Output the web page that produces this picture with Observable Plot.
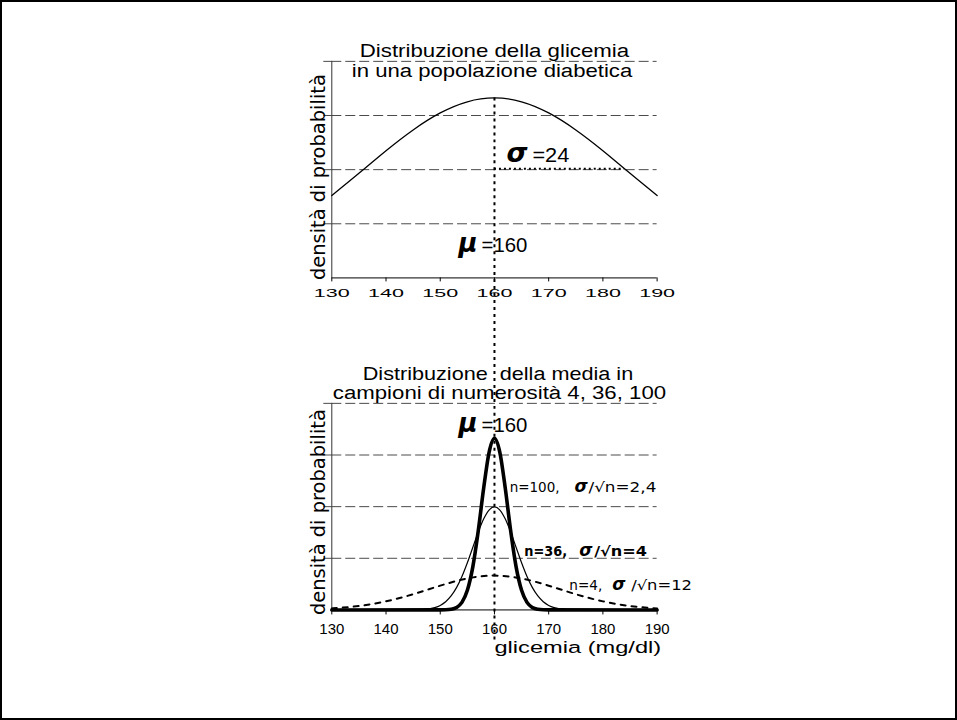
<!DOCTYPE html>
<html>
<head>
<meta charset="utf-8">
<script src="https://cdn.jsdelivr.net/npm/d3@7"></script>
<script src="https://cdn.jsdelivr.net/npm/@observablehq/plot@0.6"></script>
<style>
  body { margin: 0; background: #fff; }
  #frame { position: relative; width: 957px; height: 720px; box-sizing: border-box; border: 2px solid #000; overflow: hidden; background: #fff; }
  #top, #bottom { position: absolute; left: -2px; }
  #top { top: -2px; }
  #bottom { top: 338px; }
</style>
</head>
<body>
<div id="frame"><div id="top"></div><div id="bottom"></div></div>
<script>
// ---------- data ----------
const xTicks = [130, 140, 150, 160, 170, 180, 190];
const topGrid = [0.005, 0.010, 0.015, 0.020];
const bottomGrid = [0.05, 0.10, 0.15, 0.20];

const mu = 160;
const sigma = 24;
const sigmaLevel = 0.01008;

// top: glycaemia distribution in a diabetic population
const topX = [130, 135, 140, 145, 150, 155, 160, 165, 170, 175, 180, 185, 190];
const topY = [0.00761, 0.00966, 0.01175, 0.01367, 0.01524, 0.01627, 0.01662, 0.01627, 0.01524, 0.01367, 0.01175, 0.00966, 0.00761];

// bottom: sample means, n = 4
const n4X = [130, 135, 140, 145, 150, 155, 160, 165, 170, 175, 180, 185, 190];
const n4Y = [0.00146, 0.00380, 0.00829, 0.01522, 0.02349, 0.03048, 0.03324, 0.03048, 0.02349, 0.01522, 0.00829, 0.00380, 0.00146];

// n = 36
const n36X = [130, 144, 145, 146, 147, 148, 149, 150, 151, 152, 153, 154, 155, 156, 157, 158, 159, 160,
  161, 162, 163, 164, 165, 166, 167, 168, 169, 170, 171, 172, 173, 174, 175, 176, 190];
const n36Y = [0, 0.00003, 0.00009, 0.00022, 0.00051, 0.00111, 0.00227, 0.00438, 0.00794, 0.01350, 0.02157, 0.03238, 0.04566, 0.06049, 0.07528, 0.08802, 0.09667, 0.09974,
  0.09667, 0.08802, 0.07528, 0.06049, 0.04566, 0.03238, 0.02157, 0.01350, 0.00794, 0.00438, 0.00227, 0.00111, 0.00051, 0.00022, 0.00009, 0.00003, 0];

// n = 100
const n100X = [130, 150, 151, 152, 153, 154, 155, 156, 157, 158, 159, 160, 161, 162, 163, 164, 165, 166, 167, 168, 169, 170, 190];
const n100Y = [0, 0.00003, 0.00015, 0.00064, 0.00236, 0.00730, 0.01898, 0.04146, 0.07610, 0.11746, 0.15242, 0.16623,
  0.15242, 0.11746, 0.07610, 0.04146, 0.01898, 0.00730, 0.00236, 0.00064, 0.00015, 0.00003, 0];

// annotations
const topTitleLines = ["Distribuzione della glicemia", "in una popolazione diabetica"];
const bottomTitleLines = ["Distribuzione  della media in", "campioni di numerosità 4, 36, 100"];
const yLabel = "densità di probabilità";
const xLabel = "glicemia (mg/dl)";
const labelPrefix = ["n=100,", "n=36,", "n=4,"];
const labelSuffix = ["/√n=2,4", "/√n=4", "/√n=12"];
const labelX = [162.8, 165.5, 173.8];
const labelY = [0.114, 0.052, 0.0193];
const labelWeight = ["normal", "bold", "normal"];
const sigmaDx = [65, 55, 43];
const suffixDx = [79, 70, 62];
const prefixLen = [50, 43, 33];
const suffixLen = [68, 53, 61];

// title layout (offsets from the frame top, pixels)
const topTitleDy = [-4.3, 15.7], topTitleDx = [0, -2.5], topTitleLen = [270, 281];
const bottomTitleDy = [-23.5, -4.5], bottomTitleDx = [3.5, 5], bottomTitleLen = [271, 334];

const labels = labelPrefix.map((p, i) => ({p, s: labelSuffix[i], x: labelX[i], y: labelY[i], w: labelWeight[i]}));
const topPeak = d3.max(topY);

const sans = "'Liberation Sans', Arial, Helvetica, sans-serif";
const wide = "'DejaVu Sans', 'Liberation Sans', sans-serif";
const greek = {fontFamily: "'DejaVu Sans', sans-serif", fontWeight: "bold", fontStyle: "italic", fill: "#000"};

function stretchTicks(svg, len) {
  d3.select(svg).selectAll("g[aria-label='x-axis tick label'] text")
    .attr("textLength", len).attr("lengthAdjust", "spacingAndGlyphs");
}
function fitText(svg, str, len) {
  d3.select(svg).selectAll("text").filter(function () { return this.textContent === str; })
    .attr("textLength", len).attr("lengthAdjust", "spacingAndGlyphs");
}
const titleMarks = (lines, dxs, dys) => lines.map((t, i) => Plot.text([t], {
  x: [mu], frameAnchor: "top", dx: dxs[i], dy: dys[i], lineAnchor: "bottom", fontSize: 17.5, fontFamily: sans, fill: "#000"
}));

// ---------- top chart ----------
const topPlot = Plot.plot({
  width: 957, height: 340,
  marginLeft: 332, marginRight: 299, marginTop: 61, marginBottom: 62,
  style: {background: "transparent", fontFamily: sans, color: "#000"},
  x: {domain: [130, 190]},
  y: {domain: [0, 0.02]},
  marks: [
    Plot.ruleY(topGrid, {stroke: "#4a4a4a", strokeWidth: 1, strokeDasharray: "10,4"}),
    Plot.axisY(topGrid, {tickSize: 8, tickFormat: () => "", stroke: "#4a4a4a", label: null}),
    Plot.ruleX([130], {stroke: "#333", strokeWidth: 1}),
    Plot.ruleY([0], {stroke: "#000", strokeWidth: 1}),
    Plot.axisX(xTicks, {tickSize: 4, tickPadding: 7, fontSize: 11, label: null, tickFormat: d => String(d)}),
    Plot.line(topX.map((x, i) => ({x, y: topY[i]})), {x: "x", y: "y", stroke: "#000", strokeWidth: 1.3, curve: "natural"}),
    Plot.ruleY([sigmaLevel], {x1: [mu], x2: [mu + sigma], stroke: "#000", strokeWidth: 2.2, strokeDasharray: "2,3"}),
    Plot.ruleX([mu], {y1: [topPeak], y2: [-0.0062], stroke: "#000", strokeWidth: 2, strokeDasharray: "3,4"}),
    ...titleMarks(topTitleLines, topTitleDx, topTitleDy),
    Plot.text([yLabel], {frameAnchor: "left", dx: -7, dy: 7.5, rotate: -90, textAnchor: "middle", lineAnchor: "bottom", fontSize: 19.5, fontFamily: wide, fill: "#000"}),
    Plot.text(["σ"], {x: [mu], y: [sigmaLevel], dx: 12, dy: -7, textAnchor: "start", lineAnchor: "bottom", fontSize: 27, ...greek}),
    Plot.text(["=24"], {x: [mu], y: [sigmaLevel], dx: 38, dy: -7, textAnchor: "start", lineAnchor: "bottom", fontSize: 20, fill: "#000"}),
    Plot.text(["μ"], {x: [mu], frameAnchor: "bottom", dx: -17, dy: -26, textAnchor: "end", lineAnchor: "bottom", fontSize: 26, ...greek}),
    Plot.text(["=160"], {x: [mu], frameAnchor: "bottom", dx: -13, dy: -25.5, textAnchor: "start", lineAnchor: "bottom", fontSize: 20, fill: "#000"})
  ]
});
stretchTicks(topPlot, 36);
fitText(topPlot, "=24", 37);
fitText(topPlot, "=160", 46);
topTitleLines.forEach((s, i) => fitText(topPlot, s, topTitleLen[i]));
document.getElementById("top").appendChild(topPlot);

// ---------- bottom chart ----------
const curve = (X, Y) => X.map((x, i) => ({x, y: Y[i]}));
const prefixMarks = labels.map((d) => Plot.text([d], {x: "x", y: "y", text: "p", textAnchor: "start", lineAnchor: "bottom", fontSize: 13.5, fontFamily: wide, fontWeight: d.w, fill: "#000"}));
const greekMarks = labels.map((d, i) => Plot.text([d], {x: "x", y: "y", text: () => "σ", dx: sigmaDx[i], textAnchor: "start", lineAnchor: "bottom", fontSize: 17, ...greek}));
const suffixMarks = labels.map((d, i) => Plot.text([d], {x: "x", y: "y", text: "s", dx: suffixDx[i], textAnchor: "start", lineAnchor: "bottom", fontSize: 13.5, fontFamily: wide, fontWeight: d.w, fill: "#000"}));

const bottomPlot = Plot.plot({
  width: 957, height: 380,
  marginLeft: 332, marginRight: 299, marginTop: 63, marginBottom: 110,
  style: {background: "transparent", fontFamily: sans, color: "#000"},
  x: {domain: [130, 190]},
  y: {domain: [0, 0.2]},
  marks: [
    Plot.ruleY(bottomGrid, {stroke: "#4a4a4a", strokeWidth: 1, strokeDasharray: "10,4"}),
    Plot.axisY(bottomGrid, {tickSize: 8, tickFormat: () => "", stroke: "#4a4a4a", label: null}),
    Plot.ruleX([130], {stroke: "#333", strokeWidth: 1}),
    Plot.ruleY([0], {stroke: "#000", strokeWidth: 1}),
    Plot.axisX(xTicks, {tickSize: 5, tickPadding: 8, fontSize: 15, label: null, tickFormat: d => String(d)}),
    Plot.ruleX([mu], {y1: [-0.029], y2: [0.262], stroke: "#000", strokeWidth: 2, strokeDasharray: "3,4"}),
    Plot.line(curve(n4X, n4Y), {x: "x", y: "y", stroke: "#000", strokeWidth: 2, strokeDasharray: "5,6", curve: "natural"}),
    Plot.line(curve(n36X, n36Y), {x: "x", y: "y", stroke: "#000", strokeWidth: 1.2, curve: "monotone-x"}),
    Plot.line(curve(n100X, n100Y), {x: "x", y: "y", stroke: "#000", strokeWidth: 3.6, curve: "monotone-x"}),
    ...titleMarks(bottomTitleLines, bottomTitleDx, bottomTitleDy),
    Plot.text([yLabel], {frameAnchor: "left", dx: -7, dy: 5.5, rotate: -90, textAnchor: "middle", lineAnchor: "bottom", fontSize: 19.5, fontFamily: wide, fill: "#000"}),
    Plot.text([xLabel], {frameAnchor: "bottom-right", dx: 4, dy: 43, textAnchor: "end", lineAnchor: "bottom", fontSize: 17, fontFamily: sans, fill: "#000"}),
    Plot.text(["μ"], {x: [mu], frameAnchor: "top", dx: -17, dy: 28.5, textAnchor: "end", lineAnchor: "bottom", fontSize: 26, ...greek}),
    Plot.text(["=160"], {x: [mu], frameAnchor: "top", dx: -13, dy: 29, textAnchor: "start", lineAnchor: "bottom", fontSize: 20, fill: "#000"}),
    ...prefixMarks,
    ...greekMarks,
    ...suffixMarks
  ]
});
fitText(bottomPlot, "=160", 46);
fitText(bottomPlot, xLabel, 167);
bottomTitleLines.forEach((s, i) => fitText(bottomPlot, s, bottomTitleLen[i]));
labelPrefix.forEach((s, i) => fitText(bottomPlot, s, prefixLen[i]));
labelSuffix.forEach((s, i) => fitText(bottomPlot, s, suffixLen[i]));
document.getElementById("bottom").appendChild(bottomPlot);
</script>
</body>
</html>
